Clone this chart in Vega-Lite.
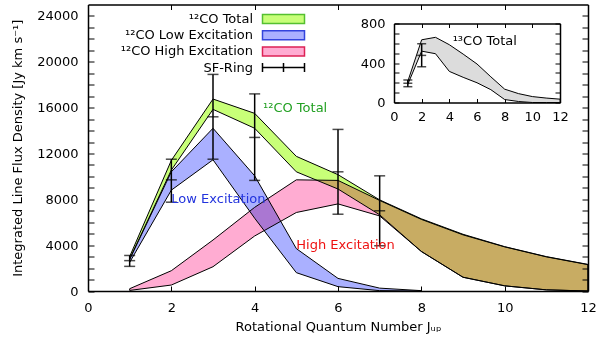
{
  "$schema": "https://vega.github.io/schema/vega-lite/v6.json",
  "autosize": "none",
  "padding": {"left": 88, "top": 4.5, "right": 12, "bottom": 51},
  "width": 500,
  "height": 286.5,
  "config": {
    "view": {"stroke": null},
    "font": "DejaVu Sans",
    "axis": {
      "labelFont": "DejaVu Sans", "labelFontSize": 13, "labelColor": "black",
      "titleFont": "DejaVu Sans", "titleFontSize": 13, "titleFontWeight": "normal", "titleColor": "black",
      "domainColor": "black", "domainWidth": 1.5, "tickColor": "black", "tickWidth": 1,
      "grid": false, "labelFlush": false, "labelOverlap": false
    },
    "legend": {
      "orient": "none", "legendX": 189, "legendY": 8, "title": null,
      "symbolSize": 100, "labelAlign": "right", "labelOffset": -37,
      "labelFont": "DejaVu Sans", "labelFontSize": 13, "labelColor": "black", "labelLimit": 400,
      "rowPadding": 1.2, "padding": 0, "symbolStrokeWidth": 1.5, "symbolOpacity": 1
    },
    "text": {"font": "DejaVu Sans", "fontSize": 13}
  },
  "datasets": {
    "bands": [
      {"series": "¹²CO Total", "J": 1, "lo": 2800, "hi": 3000},
      {"series": "¹²CO Total", "J": 2, "lo": 10550, "hi": 11400},
      {"series": "¹²CO Total", "J": 3, "lo": 15850, "hi": 16750},
      {"series": "¹²CO Total", "J": 4, "lo": 14200, "hi": 15500},
      {"series": "¹²CO Total", "J": 5, "lo": 10400, "hi": 11750},
      {"series": "¹²CO Total", "J": 6, "lo": 8900, "hi": 10150},
      {"series": "¹²CO Total", "J": 7, "lo": 6650, "hi": 7950},
      {"series": "¹²CO Total", "J": 8, "lo": 3450, "hi": 6300},
      {"series": "¹²CO Total", "J": 9, "lo": 1200, "hi": 4950},
      {"series": "¹²CO Total", "J": 10, "lo": 450, "hi": 3870},
      {"series": "¹²CO Total", "J": 11, "lo": 100, "hi": 3000},
      {"series": "¹²CO Total", "J": 12, "lo": 0, "hi": 2320},
      {"series": "¹²CO Low  Excitation", "J": 1, "lo": 2500, "hi": 2750},
      {"series": "¹²CO Low  Excitation", "J": 2, "lo": 8800, "hi": 10400},
      {"series": "¹²CO Low  Excitation", "J": 3, "lo": 11450, "hi": 14200},
      {"series": "¹²CO Low  Excitation", "J": 4, "lo": 6350, "hi": 10050},
      {"series": "¹²CO Low  Excitation", "J": 5, "lo": 1600, "hi": 3700},
      {"series": "¹²CO Low  Excitation", "J": 6, "lo": 380, "hi": 1100},
      {"series": "¹²CO Low  Excitation", "J": 7, "lo": 30, "hi": 250},
      {"series": "¹²CO Low  Excitation", "J": 8, "lo": 0, "hi": 30},
      {"series": "¹²CO High Excitation", "J": 1, "lo": 50, "hi": 200},
      {"series": "¹²CO High Excitation", "J": 2, "lo": 520, "hi": 1770},
      {"series": "¹²CO High Excitation", "J": 3, "lo": 2120, "hi": 4450},
      {"series": "¹²CO High Excitation", "J": 4, "lo": 4800, "hi": 7300},
      {"series": "¹²CO High Excitation", "J": 5, "lo": 6850, "hi": 9700},
      {"series": "¹²CO High Excitation", "J": 6, "lo": 7600, "hi": 9650},
      {"series": "¹²CO High Excitation", "J": 7, "lo": 6550, "hi": 7900},
      {"series": "¹²CO High Excitation", "J": 8, "lo": 3450, "hi": 6250},
      {"series": "¹²CO High Excitation", "J": 9, "lo": 1200, "hi": 4900},
      {"series": "¹²CO High Excitation", "J": 10, "lo": 450, "hi": 3850},
      {"series": "¹²CO High Excitation", "J": 11, "lo": 100, "hi": 2980},
      {"series": "¹²CO High Excitation", "J": 12, "lo": 0, "hi": 2300}
    ],
    "sfring": [
      {"J": 1, "c": 2650, "lo": 2150, "hi": 3100},
      {"J": 2, "c": 9700, "lo": 7750, "hi": 11500},
      {"J": 3, "c": 15200, "lo": 11500, "hi": 18900},
      {"J": 4, "c": 13400, "lo": 9650, "hi": 17200},
      {"J": 6, "c": 10400, "lo": 6700, "hi": 14100},
      {"J": 7, "c": 7000, "lo": 3950, "hi": 10050}
    ],
    "annot": [
      {"label": "¹²CO Total", "J": 4.2, "flux": 15950},
      {"label": "Low Excitation", "J": 2.0, "flux": 8030},
      {"label": "High Excitation", "J": 5.0, "flux": 4010}
    ],
    "co13": [
      {"J": 1, "lo": 185, "hi": 215},
      {"J": 2, "lo": 520, "hi": 635},
      {"J": 3, "lo": 494, "hi": 660},
      {"J": 4, "lo": 315, "hi": 585},
      {"J": 5, "lo": 255, "hi": 490},
      {"J": 6, "lo": 200, "hi": 390},
      {"J": 7, "lo": 130, "hi": 260},
      {"J": 8, "lo": 30, "hi": 135},
      {"J": 9, "lo": 10, "hi": 90},
      {"J": 10, "lo": 0, "hi": 60},
      {"J": 11, "lo": 0, "hi": 45},
      {"J": 12, "lo": 0, "hi": 34}
    ],
    "co13err": [
      {"J": 1, "c": 195, "lo": 160, "hi": 228},
      {"J": 2, "c": 477, "lo": 362, "hi": 595}
    ],
    "annot13": [
      {"label": "¹³CO Total", "J": 4.24, "flux": 627}
    ]
  },
  "layer": [
    {
      "layer": [
        {
          "data": {"name": "bands"},
          "mark": {"type": "area", "stroke": "black", "strokeWidth": 1, "blend": "multiply", "opacity": 1},
          "encoding": {
            "x": {
              "field": "J", "type": "quantitative",
              "scale": {"domain": [0, 12], "nice": false, "zero": false},
              "axis": {
                "orient": "bottom", "values": [0, 2, 4, 6, 8, 10, 12], "format": "d",
                "tickSize": -5, "labelPadding": 15,
                "title": "Rotational Quantum Number  Jᵤₚ", "titlePadding": 6
              }
            },
            "y": {
              "field": "lo", "type": "quantitative", "stack": null,
              "scale": {"domain": [0, 25000], "nice": false, "zero": false},
              "axis": {
                "orient": "left", "format": "d",
                "values": [0, 1000, 2000, 3000, 4000, 5000, 6000, 7000, 8000, 9000, 10000, 11000, 12000, 13000, 14000, 15000, 16000, 17000, 18000, 19000, 20000, 21000, 22000, 23000, 24000],
                "labelExpr": "datum.value % 4000 === 0 ? datum.label : ''",
                "tickSize": -6, "labelPadding": 16,
                "encode": {"ticks": {"x2": {"condition": {"test": "datum.value % 4000 === 0", "value": 6}, "value": 3}}},
                "title": "Integrated Line Flux Density [Jy km s⁻¹]", "titlePadding": 12
              }
            },
            "y2": {"field": "hi"},
            "fill": {
              "field": "series", "type": "nominal",
              "scale": {
                "domain": ["¹²CO Total", "¹²CO Low  Excitation", "¹²CO High Excitation", "SF-Ring"],
                "range": ["#c8ff78", "#aab0ff", "#ffacd2", "transparent"]
              },
              "legend": {"title": null}
            }
          }
        },
        {
          "data": {"name": "bands"},
          "mark": {"type": "point", "opacity": 0, "strokeWidth": 1.5, "size": 100},
          "encoding": {
            "x": {"field": "J", "type": "quantitative", "axis": null},
            "y": {"field": "lo", "type": "quantitative", "axis": null},
            "fill": {"field": "series", "type": "nominal", "legend": {"title": null}},
            "stroke": {
              "field": "series", "type": "nominal",
              "scale": {
                "domain": ["¹²CO Total", "¹²CO Low  Excitation", "¹²CO High Excitation", "SF-Ring"],
                "range": ["#55c030", "#3344dd", "#dd2255", "black"]
              },
              "legend": {"title": null}
            },
            "shape": {
              "field": "series", "type": "nominal",
              "scale": {
                "domain": ["¹²CO Total", "¹²CO Low  Excitation", "¹²CO High Excitation", "SF-Ring"],
                "range": ["M-4.2,-0.9H4.2V0.9H-4.2Z", "M-4.2,-0.9H4.2V0.9H-4.2Z", "M-4.2,-0.9H4.2V0.9H-4.2Z", "M-4.2,0H4.2M-4.2,-0.9V0.9M0,-0.9V0.9M4.2,-0.9V0.9"]
              },
              "legend": {"title": null}
            }
          }
        },
        {
          "data": {"name": "sfring"},
          "mark": {"type": "rule", "color": "black", "strokeWidth": 1.5},
          "encoding": {
            "x": {
              "field": "J", "type": "quantitative",
              "axis": {"orient": "top", "values": [0, 2, 4, 6, 8, 10, 12], "labels": false, "tickSize": -5, "title": null}
            },
            "y": {
              "field": "lo", "type": "quantitative",
              "axis": {
                "orient": "right", "labels": false, "title": null,
                "values": [0, 1000, 2000, 3000, 4000, 5000, 6000, 7000, 8000, 9000, 10000, 11000, 12000, 13000, 14000, 15000, 16000, 17000, 18000, 19000, 20000, 21000, 22000, 23000, 24000],
                "tickSize": -6,
                "encode": {"ticks": {"x2": {"condition": {"test": "datum.value % 4000 === 0", "value": -6}, "value": -3}}}
              }
            },
            "y2": {"field": "hi"}
          }
        },
        {
          "data": {"name": "sfring"},
          "transform": [{"fold": ["lo", "hi", "c"], "as": ["k", "v"]}],
          "mark": {"type": "tick", "orient": "horizontal", "color": "black", "thickness": 1.5, "size": 11},
          "encoding": {
            "x": {"field": "J", "type": "quantitative", "axis": null},
            "y": {"field": "v", "type": "quantitative", "axis": null}
          }
        },
        {
          "data": {"name": "annot"},
          "transform": [{"filter": "datum.label === '¹²CO Total'"}],
          "mark": {"type": "text", "align": "left", "baseline": "middle", "color": "#22a022", "fontSize": 13},
          "encoding": {
            "x": {"field": "J", "type": "quantitative", "axis": null},
            "y": {"field": "flux", "type": "quantitative", "axis": null},
            "text": {"field": "label"}
          }
        },
        {
          "data": {"name": "annot"},
          "transform": [{"filter": "datum.label === 'Low Excitation'"}],
          "mark": {"type": "text", "align": "left", "baseline": "middle", "color": "#2233dd", "fontSize": 13},
          "encoding": {
            "x": {"field": "J", "type": "quantitative", "axis": null},
            "y": {"field": "flux", "type": "quantitative", "axis": null},
            "text": {"field": "label"}
          }
        },
        {
          "data": {"name": "annot"},
          "transform": [{"filter": "datum.label === 'High Excitation'"}],
          "mark": {"type": "text", "align": "left", "baseline": "middle", "color": "#ee1111", "fontSize": 13},
          "encoding": {
            "x": {"field": "J", "type": "quantitative", "axis": null},
            "y": {"field": "flux", "type": "quantitative", "axis": null},
            "text": {"field": "label"}
          }
        }
      ],
      "resolve": {"axis": {"x": "independent", "y": "independent"}}
    },
    {
      "layer": [
        {
          "data": {"name": "co13"},
          "mark": {"type": "area", "fill": "#dcdcdc", "stroke": "black", "strokeWidth": 1, "opacity": 1},
          "encoding": {
            "x": {
              "field": "J", "type": "quantitative",
              "scale": {"domain": [0, 12], "range": [306, 472], "nice": false, "zero": false},
              "axis": {
                "orient": "bottom", "offset": -188.5, "values": [0, 2, 4, 6, 8, 10, 12], "format": "d",
                "tickSize": -4, "labelPadding": 12, "title": null
              }
            },
            "y": {
              "field": "lo", "type": "quantitative", "stack": null,
              "scale": {"domain": [0, 800], "range": [98, 19], "nice": false, "zero": false},
              "axis": {
                "orient": "left", "offset": -306, "format": "d",
                "values": [0, 100, 200, 300, 400, 500, 600, 700, 800],
                "labelExpr": "datum.value % 400 === 0 ? datum.label : ''",
                "tickSize": -5, "labelPadding": 14, "title": null,
                "encode": {"ticks": {"x2": {"condition": {"test": "datum.value % 400 === 0", "value": 5}, "value": 3}}}
              }
            },
            "y2": {"field": "hi"}
          }
        },
        {
          "data": {"name": "co13err"},
          "mark": {"type": "rule", "color": "black", "strokeWidth": 1.5},
          "encoding": {
            "x": {
              "field": "J", "type": "quantitative",
              "axis": {"orient": "top", "offset": -19, "values": [0, 2, 4, 6, 8, 10, 12], "labels": false, "tickSize": -4, "title": null}
            },
            "y": {
              "field": "lo", "type": "quantitative",
              "axis": {
                "orient": "right", "offset": -28, "labels": false, "title": null,
                "values": [0, 100, 200, 300, 400, 500, 600, 700, 800],
                "tickSize": -5,
                "encode": {"ticks": {"x2": {"condition": {"test": "datum.value % 400 === 0", "value": -5}, "value": -3}}}
              }
            },
            "y2": {"field": "hi"}
          }
        },
        {
          "data": {"name": "co13err"},
          "transform": [{"fold": ["lo", "hi", "c"], "as": ["k", "v"]}],
          "mark": {"type": "tick", "orient": "horizontal", "color": "black", "thickness": 1.5, "size": 9},
          "encoding": {
            "x": {"field": "J", "type": "quantitative", "axis": null},
            "y": {"field": "v", "type": "quantitative", "axis": null}
          }
        },
        {
          "data": {"name": "annot13"},
          "mark": {"type": "text", "align": "left", "baseline": "middle", "color": "black", "fontSize": 13},
          "encoding": {
            "x": {"field": "J", "type": "quantitative", "axis": null},
            "y": {"field": "flux", "type": "quantitative", "axis": null},
            "text": {"field": "label"}
          }
        }
      ],
      "resolve": {"axis": {"x": "independent", "y": "independent"}}
    }
  ],
  "resolve": {"scale": {"x": "independent", "y": "independent"}, "axis": {"x": "independent", "y": "independent"}}
}
